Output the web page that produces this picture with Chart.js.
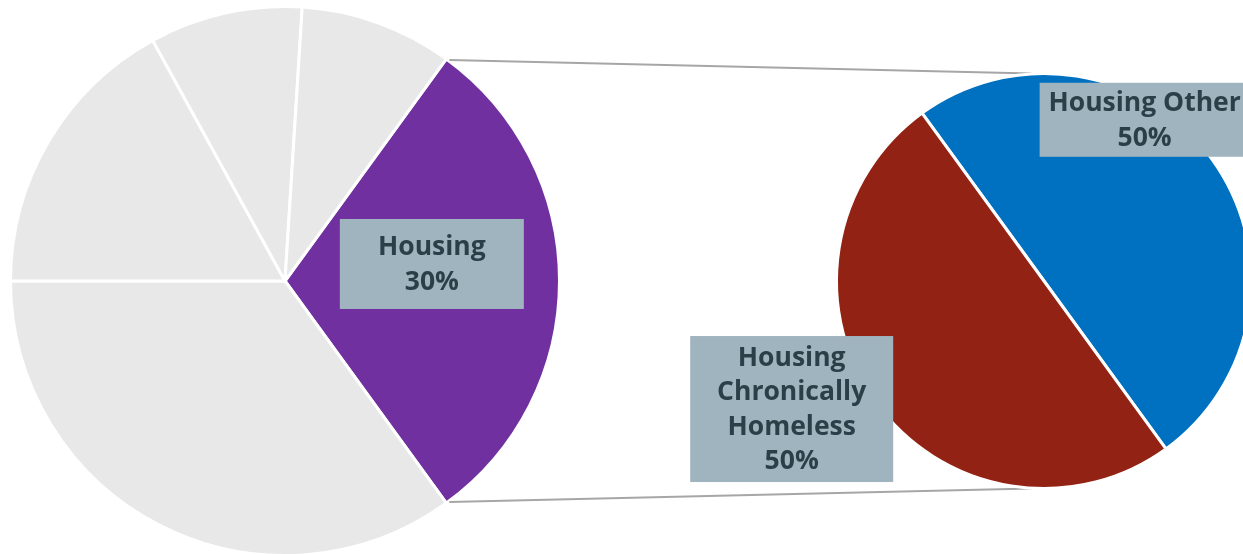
<!DOCTYPE html>
<html>
<head>
<meta charset="utf-8">
<script src="https://cdn.jsdelivr.net/npm/chart.js@4.4.1/dist/chart.umd.min.js"></script>
<style>
  html, body { margin: 0; padding: 0; background: #fff; overflow: hidden; }
  body { width: 1243px; height: 554px; position: relative; }
  #mainWrap { position: absolute; left: 0; top: 0; width: 1243px; height: 560px; }
  #subWrap { position: absolute; left: 440px; top: 0; width: 813px; height: 560px; }
</style>
</head>
<body>
<div id="mainWrap"><canvas id="mainPie"></canvas></div>
<div id="subWrap"><canvas id="subPie"></canvas></div>
<script>
// main pie: Housing plus the other (unlabelled) categories
const mainLabels = ['Housing', 'Other A', 'Other B', 'Other C', 'Other D']
const mainValues = [30, 35, 17, 9, 9]
const mainColors = ['#7030a0', '#e8e8e8', '#e8e8e8', '#e8e8e8', '#e8e8e8']

// breakdown of the Housing slice
const subLabels = ['Housing Other', 'Housing Chronically Homeless']
const subValues = [50, 50]
const subColors = ['#0070c0', '#922314']

const SUB_OFFSET_X = 440
const FONT = 'bold 26.5px "Open Sans", "DejaVu Sans", sans-serif'
const LINE_H = 34.5
const BOX_BG = '#a0b4bf'
const TEXT_COLOR = '#2b3f48'

// label boxes placed relative to each pie (fractions of its radius)
const mainLabelBoxes = [
  { index: 0, lines: ['Housing', '30%'], fx: 0.535, fy: -0.062, w: 184, h: 90 },
]
const subLabelBoxes = [
  { index: 0, lines: ['Housing Other', '50%'], fx: 0.485, fy: -0.777, w: 210, h: 74 },
  { index: 1, lines: ['Housing', 'Chronically', 'Homeless', '50%'], fx: -1.216, fy: 0.617, w: 203, h: 146 },
]

function drawBoxes(chart, boxes) {
  const arc = chart.getDatasetMeta(0).data[0]
  if (!arc) return
  const ctx = chart.ctx
  const r = arc.outerRadius
  ctx.save()
  ctx.font = FONT
  ctx.textAlign = 'center'
  ctx.textBaseline = 'middle'
  boxes.forEach(b => {
    const cx = arc.x + b.fx * r
    const cy = arc.y + b.fy * r
    ctx.fillStyle = BOX_BG
    ctx.fillRect(cx - b.w / 2, cy - b.h / 2, b.w, b.h)
    ctx.fillStyle = TEXT_COLOR
    const top = cy - (b.lines.length - 1) * LINE_H / 2
    b.lines.forEach((t, i) => ctx.fillText(t, cx, top + i * LINE_H + 1))
  })
  ctx.restore()
}

const baseOptions = {
  responsive: true,
  maintainAspectRatio: false,
  animation: false,
  events: [],
  plugins: { legend: { display: false }, tooltip: { enabled: false } },
}

const mainChart = new Chart(document.getElementById('mainPie'), {
  type: 'pie',
  data: {
    labels: mainLabels,
    datasets: [{
      data: mainValues,
      backgroundColor: mainColors,
      borderColor: '#ffffff',
      borderWidth: 3,
    }],
  },
  options: {
    ...baseOptions,
    rotation: 36,
    layout: { padding: { left: 9, top: 5, right: 682, bottom: 3 } },
  },
  plugins: [{
    id: 'mainLabels',
    afterDatasetsDraw(chart) { drawBoxes(chart, mainLabelBoxes) },
  }],
})

const subChart = new Chart(document.getElementById('subPie'), {
  type: 'pie',
  data: {
    labels: subLabels,
    datasets: [{
      data: subValues,
      backgroundColor: subColors,
      borderColor: '#ffffff',
      borderWidth: 3,
    }],
  },
  options: {
    ...baseOptions,
    rotation: -36,
    layout: { padding: { left: 395, top: 72, right: 0, bottom: 70 } },
  },
  plugins: [{
    id: 'connectors',
    beforeDatasetsDraw(chart) {
      const src = mainChart.getDatasetMeta(0).data[0]
      const dst = chart.getDatasetMeta(0).data[0]
      if (!src || !dst) return
      const ctx = chart.ctx
      const sx = src.x - SUB_OFFSET_X
      const ends = [
        [src.startAngle, -1],
        [src.endAngle, 1],
      ]
      ctx.save()
      ctx.strokeStyle = '#a6a6a6'
      ctx.lineWidth = 2
      ends.forEach(([a, side]) => {
        ctx.beginPath()
        ctx.moveTo(sx + src.outerRadius * Math.cos(a) + 3, src.y + src.outerRadius * Math.sin(a) - side)
        ctx.lineTo(dst.x - 0.06 * dst.outerRadius, dst.y + side * dst.outerRadius)
        ctx.stroke()
      })
      ctx.restore()
    },
    afterDatasetsDraw(chart) { drawBoxes(chart, subLabelBoxes) },
  }],
})
</script>
</body>
</html>
